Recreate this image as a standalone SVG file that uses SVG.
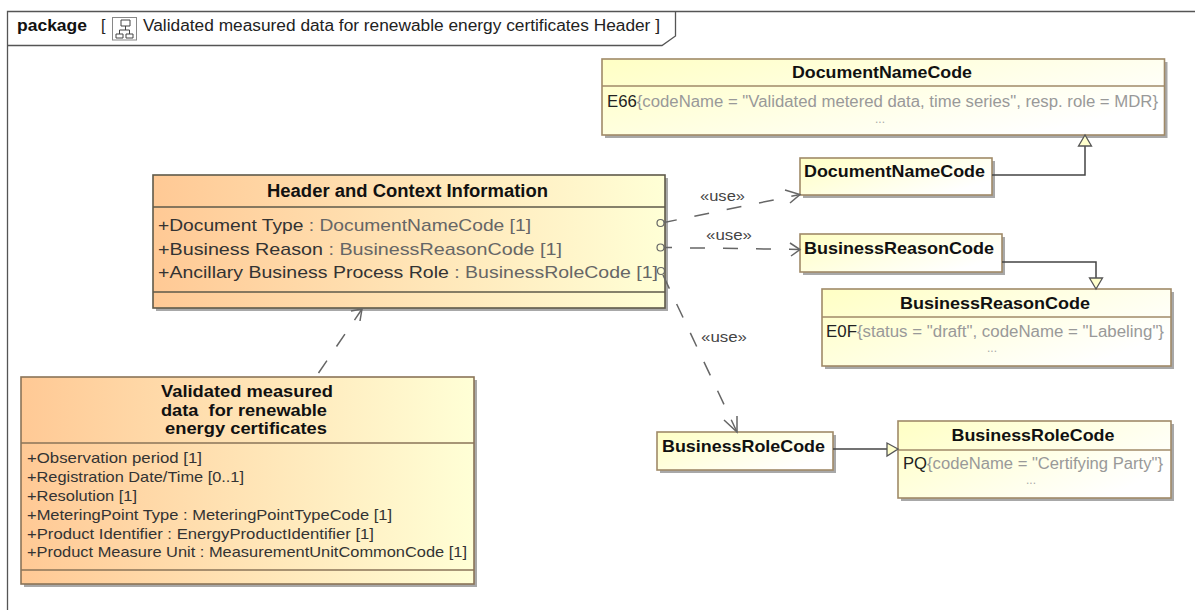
<svg xmlns="http://www.w3.org/2000/svg" width="1195" height="610" viewBox="0 0 1195 610">
<style>
text{font-family:"Liberation Sans",Arial,sans-serif;font-size:15px;fill:#222}
.t{font-weight:bold;font-size:16.500px;fill:#111}
.a{font-size:17px;fill:#333}
.v{font-size:15px;fill:#333}
.g{fill:#666}
.c{fill:#999}
.d{fill:#aaa;font-size:12px}
.u{font-size:15px;fill:#444}
.sh{fill:#a8a8a8}
.bo{stroke:#5f5a4a;stroke-width:1.6}
.bb{stroke:#8a7458;stroke-width:1.6}
.by{stroke:#a08a68;stroke-width:1.6}
.div{stroke-width:1.3;fill:none}
.dep{fill:none;stroke:#666;stroke-width:1.5;stroke-dasharray:15 18}
.dep3{fill:none;stroke:#666;stroke-width:1.5;stroke-dasharray:15 17}
.head{fill:none;stroke:#666;stroke-width:1.5}
.ring{fill:none;stroke:#666;stroke-width:1.2}
.gen{fill:none;stroke:#444;stroke-width:1.5}
.tri{fill:#ffffcc;stroke:#555;stroke-width:1.3}
</style>
<defs>
<linearGradient id="o" x1="0" y1="0" x2="1" y2="0"><stop offset="0" stop-color="#ffc995"/><stop offset="1" stop-color="#ffffd6"/></linearGradient>
<linearGradient id="y" x1="0" y1="0" x2="1" y2="0.6"><stop offset="0" stop-color="#ffffc4"/><stop offset="1" stop-color="#ffffff"/></linearGradient>
</defs>
<rect width="1195" height="610" fill="#fff"/>
<g id="frame">
<path d="M7.500 610V11.500H1195" fill="none" stroke="#555" stroke-width="1.300"/>
<path d="M7.500 45.500H662L675.500 36V11.500" fill="none" stroke="#555" stroke-width="1.300"/>
<text x="17" y="31" textLength="70" lengthAdjust="spacingAndGlyphs" style="font-size:16.500px;font-weight:bold;fill:#111">package</text>
<text x="101" y="31" style="font-size:16px">[</text>
<rect x="112.500" y="17.500" width="24" height="22.500" fill="#fff" stroke="#888"/>
<path d="M121 20h9v6h-9zM116 34h7v4h-7zM126 34h7v4h-7zM125.500 26v4M119.500 34v-4h10v4" fill="none" stroke="#444"/>
<text x="143" y="31" textLength="517" lengthAdjust="spacingAndGlyphs" style="font-size:16px">Validated measured data for renewable energy certificates Header ]</text>
</g>
<g id="header-context">
<rect class="sh" x="156" y="178" width="512" height="133"/>
<rect class="bo" x="153" y="175" width="512" height="133" fill="url(#o)"/>
<path class="bo div" d="M153 207H665M153 292H665"/>
<text class="t" x="267" y="197" textLength="281" lengthAdjust="spacingAndGlyphs" style="font-size:18px">Header and Context Information</text>
<text class="a" x="158" y="231" textLength="373" lengthAdjust="spacingAndGlyphs">+Document Type<tspan class="g"> : DocumentNameCode [1]</tspan></text>
<text class="a" x="158" y="255" textLength="404" lengthAdjust="spacingAndGlyphs">+Business Reason<tspan class="g"> : BusinessReasonCode [1]</tspan></text>
<text class="a" x="158" y="278" textLength="500" lengthAdjust="spacingAndGlyphs">+Ancillary Business Process Role<tspan class="g"> : BusinessRoleCode [1]</tspan></text>
</g>
<g id="validated-data">
<rect class="sh" x="24" y="380" width="453" height="207"/>
<rect class="bb" x="21" y="377" width="453" height="207" fill="url(#o)"/>
<path class="bb div" d="M21 443H474M21 570H474"/>
<text class="t" x="161" y="397" textLength="172" lengthAdjust="spacingAndGlyphs">Validated measured</text>
<text class="t" x="161" y="416" textLength="166" lengthAdjust="spacingAndGlyphs" xml:space="preserve">data  for renewable</text>
<text class="t" x="165" y="434" textLength="162" lengthAdjust="spacingAndGlyphs">energy certificates</text>
<text class="v" x="27" y="463" textLength="175" lengthAdjust="spacingAndGlyphs">+Observation period [1]</text>
<text class="v" x="27" y="482" textLength="217" lengthAdjust="spacingAndGlyphs">+Registration Date/Time [0..1]</text>
<text class="v" x="27" y="501" textLength="110" lengthAdjust="spacingAndGlyphs">+Resolution [1]</text>
<text class="v" x="27" y="520" textLength="365" lengthAdjust="spacingAndGlyphs">+MeteringPoint Type : MeteringPointTypeCode [1]</text>
<text class="v" x="27" y="539" textLength="347" lengthAdjust="spacingAndGlyphs">+Product Identifier : EnergyProductIdentifier [1]</text>
<text class="v" x="27" y="557" textLength="440" lengthAdjust="spacingAndGlyphs">+Product Measure Unit : MeasurementUnitCommonCode [1]</text>
</g>
<g id="document-name-code-enum">
<rect class="sh" x="605" y="62" width="562.500" height="76"/>
<rect class="by" x="602" y="59" width="562.500" height="76" fill="url(#y)"/>
<path class="by div" d="M602 86H1164.500"/>
<text class="t" x="792" y="78" textLength="180" lengthAdjust="spacingAndGlyphs">DocumentNameCode</text>
<text x="607" y="107" textLength="551" lengthAdjust="spacingAndGlyphs" style="font-size:16px">E66<tspan class="c">{codeName = "Validated metered data, time series", resp. role = MDR}</tspan></text>
<text class="d" x="880" y="123" text-anchor="middle">...</text>
</g>
<g id="document-name-code">
<rect class="sh" x="803" y="161" width="192" height="37"/>
<rect class="by" x="800" y="158" width="192" height="37" fill="url(#y)"/>
<text class="t" x="804" y="177" textLength="181" lengthAdjust="spacingAndGlyphs">DocumentNameCode</text>
</g>
<g id="business-reason-code">
<rect class="sh" x="803" y="237" width="202" height="38"/>
<rect class="by" x="800" y="234" width="202" height="38" fill="url(#y)"/>
<text class="t" x="804" y="254" textLength="190" lengthAdjust="spacingAndGlyphs">BusinessReasonCode</text>
</g>
<g id="business-reason-code-enum">
<rect class="sh" x="825" y="292" width="349" height="77"/>
<rect class="by" x="822" y="289" width="349" height="77" fill="url(#y)"/>
<path class="by div" d="M822 317H1171"/>
<text class="t" x="900" y="309" textLength="190" lengthAdjust="spacingAndGlyphs">BusinessReasonCode</text>
<text x="826" y="337" textLength="338" lengthAdjust="spacingAndGlyphs" style="font-size:16px">E0F<tspan class="c">{status = "draft", codeName = "Labeling"}</tspan></text>
<text class="d" x="992" y="352" text-anchor="middle">...</text>
</g>
<g id="business-role-code">
<rect class="sh" x="660" y="435" width="176" height="38"/>
<rect class="by" x="657" y="432" width="176" height="38" fill="url(#y)"/>
<text class="t" x="662" y="452" textLength="163" lengthAdjust="spacingAndGlyphs">BusinessRoleCode</text>
</g>
<g id="business-role-code-enum">
<rect class="sh" x="901" y="424" width="273" height="77"/>
<rect class="by" x="898" y="421" width="273" height="77" fill="url(#y)"/>
<path class="by div" d="M898 450H1171"/>
<text class="t" x="951.500" y="441" textLength="163" lengthAdjust="spacingAndGlyphs">BusinessRoleCode</text>
<text x="903" y="469" textLength="260" lengthAdjust="spacingAndGlyphs" style="font-size:16px">PQ<tspan class="c">{codeName = "Certifying Party"}</tspan></text>
<text class="d" x="1031" y="484" text-anchor="middle">...</text>
</g>
<g id="connectors">
<path class="dep" d="M664 222.500L800 194.500" stroke-dashoffset="2"/>
<path class="head" d="M785 190L800 194.500L790 203"/>
<path class="dep" d="M664 247.500L800 249.500" stroke-dashoffset="7"/>
<path class="head" d="M790 243L800 249.500L791 256"/>
<path class="dep3" d="M663 275L737 432"/>
<path class="head" d="M724 420L737 432L737 416"/>
<path class="dep3" d="M318.500 373L362 309"/>
<path class="head" d="M351 311L362 309L360 321"/>
<circle class="ring" cx="660.500" cy="223" r="3.500"/>
<circle class="ring" cx="660.500" cy="247.500" r="3.500"/>
<circle class="ring" cx="661" cy="271" r="3.500"/>
<path class="gen" d="M992 175H1085V146"/>
<path class="tri" d="M1085 135L1078.500 146H1091.500Z"/>
<path class="gen" d="M1002 262H1096V278"/>
<path class="tri" d="M1096 289L1089.500 278H1102.500Z"/>
<path class="gen" d="M833 449H887"/>
<path class="tri" d="M898 449L887 443V456Z"/>
<text class="u" x="700" y="201" textLength="45" lengthAdjust="spacingAndGlyphs">«use»</text>
<text class="u" x="706" y="240" textLength="46" lengthAdjust="spacingAndGlyphs">«use»</text>
<text class="u" x="701" y="342" textLength="46" lengthAdjust="spacingAndGlyphs">«use»</text>
</g>
</svg>
